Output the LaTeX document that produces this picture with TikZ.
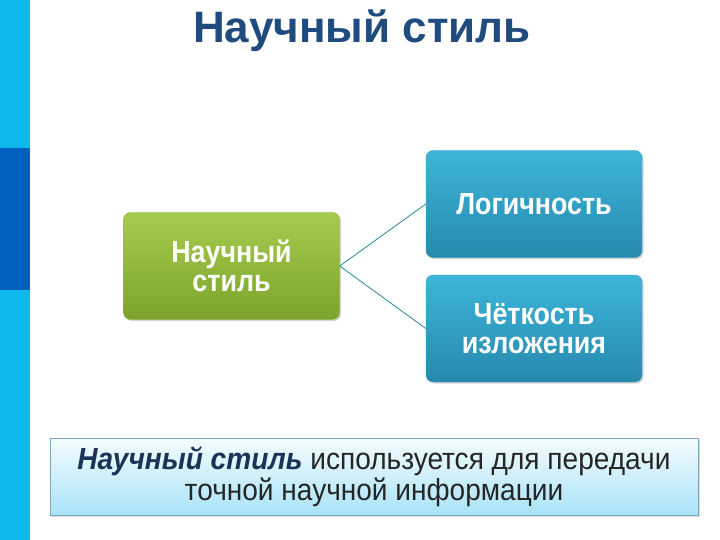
\documentclass[tikz,border=0pt]{standalone}
\usepackage{fontspec}
\setmainfont{Liberation Sans}
\newfontfamily\boxfont[FakeStretch=0.88]{Liberation Sans}
\newfontfamily\notefont[FakeStretch=0.92]{Liberation Sans}
\usepackage{tikz}
\usetikzlibrary{calc,positioning,shadows}

\definecolor{stripblue}{HTML}{0DB8EC}
\definecolor{stripdark}{HTML}{0062BE}
\definecolor{titleblue}{HTML}{1F4B7E}
\definecolor{greentop}{HTML}{A6CB4E}
\definecolor{greenbot}{HTML}{7CA42C}
\definecolor{tealtop}{HTML}{3DB5DA}
\definecolor{tealbot}{HTML}{2689AE}
\definecolor{linkteal}{HTML}{3E8EA6}
\definecolor{notetop}{HTML}{F4FCFF}
\definecolor{notebot}{HTML}{A9E3F7}
\definecolor{noteedge}{HTML}{7FA8BE}
\definecolor{notebold}{HTML}{1C3358}

\tikzset{
  box/.style={rounded corners=7pt, minimum width=216pt, minimum height=107pt,
    align=center, text=white, font=\boxfont\bfseries\fontsize{30.5}{29}\selectfont,
    drop shadow={shadow xshift=1.5pt, shadow yshift=-1.5pt, opacity=0.35}},
  mainbox/.style={box, top color=greentop, bottom color=greenbot, draw=greenbot!80!white},
  subbox/.style={box, top color=tealtop, bottom color=tealbot, draw=tealbot!80!white},
  link/.style={draw=linkteal, line width=0.9pt}
}

\begin{document}
\begin{tikzpicture}[x=1pt, y=-1pt]

  \useasboundingbox (0,0) rectangle (720,540);

  % side strip
  \fill [stripblue] (0,0) rectangle (30,540);
  \fill [stripdark] (0,148) rectangle (30,290);

  \node (title) at (362,31) [text=titleblue, font=\bfseries\fontsize{44}{46}\selectfont] {Научный стиль};

  \node (style) at (231.5,266) [mainbox] {Научный\\стиль};

  \node (logic) at (534,204) [subbox] {Логичность};

  \node (clear) at (534,328.5) [subbox] {Чёткость\\изложения};

  \path [link] (style.east) -- (logic.west);

  \path [link] (style.east) -- (clear.west);

  \node (note) at (374,476.5) [minimum width=648pt, minimum height=77pt, align=center,
    top color=notetop, bottom color=notebot, draw=noteedge, line width=0.8pt,
    drop shadow={shadow xshift=2pt, shadow yshift=-2pt, opacity=0.3},
    font=\notefont\fontsize{30.5}{31}\selectfont, text=black!85]
    {\textcolor{notebold}{\textbf{\textit{Научный стиль}}} используется для передачи\\точной научной информации};

\end{tikzpicture}
\end{document}
